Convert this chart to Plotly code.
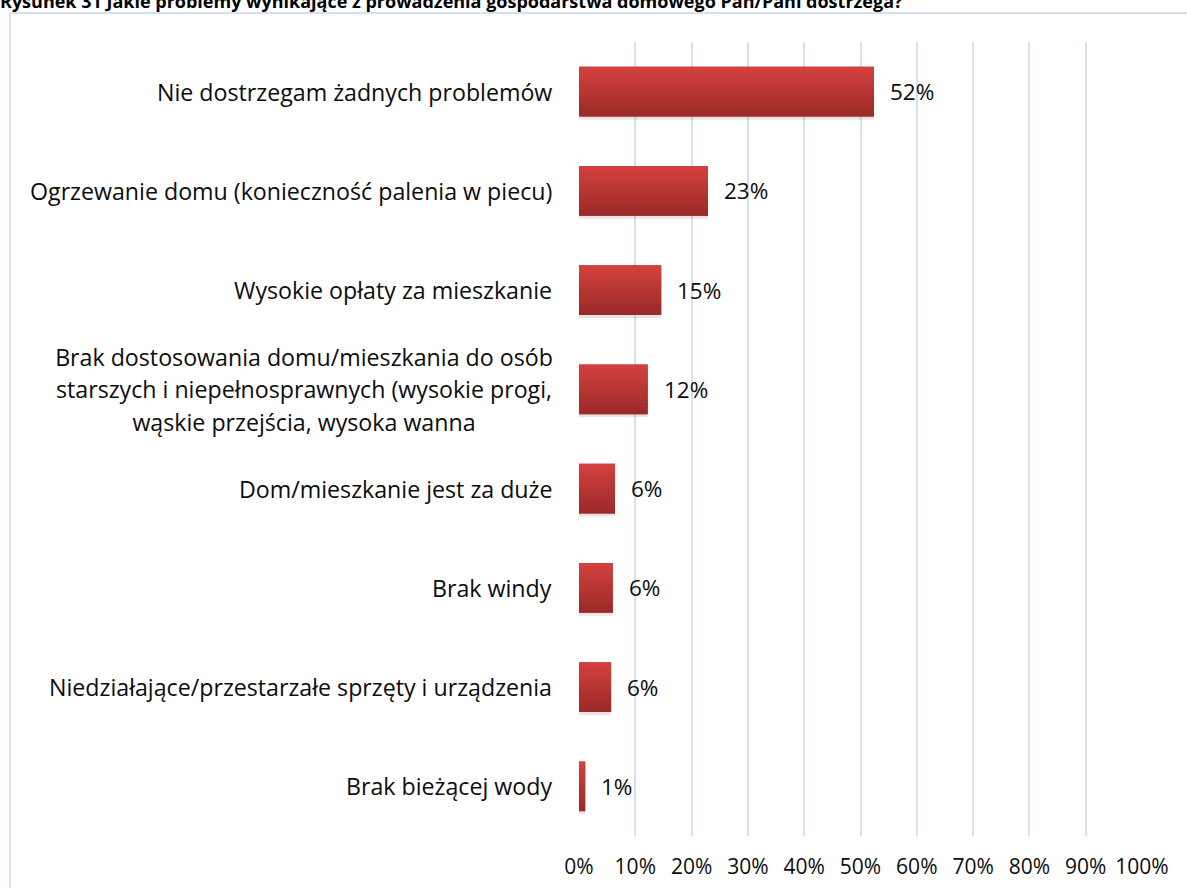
import plotly.graph_objects as go

categories = [
    "Nie dostrzegam żadnych problemów",
    "Ogrzewanie domu (konieczność palenia w piecu)",
    "Wysokie opłaty za mieszkanie",
    "Brak dostosowania domu/mieszkania do osób\nstarszych i niepełnosprawnych (wysokie progi,\nwąskie przejścia, wysoka wanna",
    "Dom/mieszkanie jest za duże",
    "Brak windy",
    "Niedziałające/przestarzałe sprzęty i urządzenia",
    "Brak bieżącej wody",
]
values = [0.524, 0.229, 0.146, 0.122, 0.064, 0.060, 0.057, 0.011]
value_labels = ["52%", "23%", "15%", "12%", "6%", "6%", "6%", "1%"]
x_ticks = [0, 0.1, 0.2, 0.3, 0.4, 0.5, 0.6, 0.7, 0.8, 0.9, 1.0]
x_tick_labels = ["0%", "10%", "20%", "30%", "40%", "50%", "60%", "70%", "80%", "90%", "100%"]
title_text = "Rysunek 31 Jakie problemy wynikające z prowadzenia gospodarstwa domowego Pan/Pani dostrzega?"

FONT = "Open Sans"
TXT = "#0d0d0d"
W, H = 1187, 888
ML, MR, MT, MB = 579, 45, 42, 52
BAR_W = 0.5
y_pos = list(range(len(categories)))

fig = go.Figure()

# soft shadow under bars
fig.add_trace(go.Bar(
    y=y_pos, x=values, orientation="h",
    width=BAR_W, offset=-BAR_W / 2 + 0.03,
    marker=dict(color="rgba(0,0,0,0.10)", line=dict(width=0)),
    hoverinfo="skip",
))

# base bar (fills seams between gradient slices)
fig.add_trace(go.Bar(
    y=y_pos, x=values, orientation="h",
    width=BAR_W, offset=-BAR_W / 2,
    marker=dict(color="rgb(183,53,51)", line=dict(width=0)),
    hoverinfo="skip",
))

# vertical gradient emulated by thin slices of each bar
top_rgb = (0xD2, 0x41, 0x3E)
bot_rgb = (0x9B, 0x2A, 0x28)
N_SLICES = 14
slice_w = BAR_W / N_SLICES
for k in range(N_SLICES):
    t = k / (N_SLICES - 1)
    c = tuple(round(top_rgb[i] + (bot_rgb[i] - top_rgb[i]) * t) for i in range(3))
    w = slice_w if k == N_SLICES - 1 else slice_w + 0.012
    fig.add_trace(go.Bar(
        y=y_pos, x=values, orientation="h",
        width=w, offset=-BAR_W / 2 + k * slice_w,
        marker=dict(color="rgb(%d,%d,%d)" % c, line=dict(width=0)),
        hoverinfo="skip",
    ))

annotations = []
CAT_SIZE = 23.2
for i, cat in enumerate(categories):
    lines = cat.split("\n")
    if len(lines) == 1:
        annotations.append(dict(
            xref="paper", yref="y", x=0, y=i,
            xanchor="right", yanchor="middle", align="right",
            xshift=-25, text=cat, showarrow=False,
            font=dict(family=FONT, size=CAT_SIZE, color=TXT),
        ))
    else:
        n = len(lines)
        for j, ln in enumerate(lines):
            annotations.append(dict(
                xref="paper", yref="y", x=0, y=i,
                xanchor="center", yanchor="middle", align="center",
                xshift=-(579 - 304), yshift=((n - 1) / 2 - j) * 32.5,
                width=590, text=ln, showarrow=False,
                font=dict(family=FONT, size=CAT_SIZE, color=TXT),
            ))

for i, (v, lab) in enumerate(zip(values, value_labels)):
    annotations.append(dict(
        xref="x", yref="y", x=v, y=i, xanchor="left", yanchor="middle",
        xshift=14, text=lab, showarrow=False,
        font=dict(family=FONT, size=22.5, color=TXT),
    ))

annotations.append(dict(
    xref="paper", yref="paper", x=0, y=1, xanchor="left", yanchor="middle",
    xshift=-ML - 2, yshift=MT - 1, text="<b>" + title_text + "</b>", showarrow=False,
    font=dict(family=FONT, size=18, color="#000000"),
))

fig.update_layout(
    width=W, height=H,
    margin=dict(l=ML, r=MR, t=MT, b=MB, autoexpand=False),
    paper_bgcolor="white", plot_bgcolor="white",
    showlegend=False, barmode="overlay",
    annotations=annotations,
    xaxis=dict(
        range=[0, 1], tickvals=x_ticks, ticktext=x_tick_labels,
        showgrid=True, gridcolor="#d6e1ef", gridwidth=1.5,
        zeroline=False, showline=False, ticks="",
        tickfont=dict(family=FONT, size=21, color=TXT),
        ticklabelstandoff=16, automargin=False,
    ),
    yaxis=dict(
        range=[len(categories) - 0.5, -0.5],
        showticklabels=False, showgrid=False, zeroline=False, showline=False,
        automargin=False,
    ),
    shapes=[dict(
        type="rect", xref="paper", yref="paper",
        x0=(10 - ML) / (W - ML - MR), x1=1.2,
        y0=-0.2, y1=1 + (MT - 13) / (H - MT - MB),
        line=dict(color="#d6e1ef", width=2), fillcolor="rgba(0,0,0,0)", layer="below",
    )],
)

fig.write_html(
    "out.html",
    config={"displayModeBar": False},
    post_script="document.body.style.margin='0';document.body.style.overflow='hidden';",
)
